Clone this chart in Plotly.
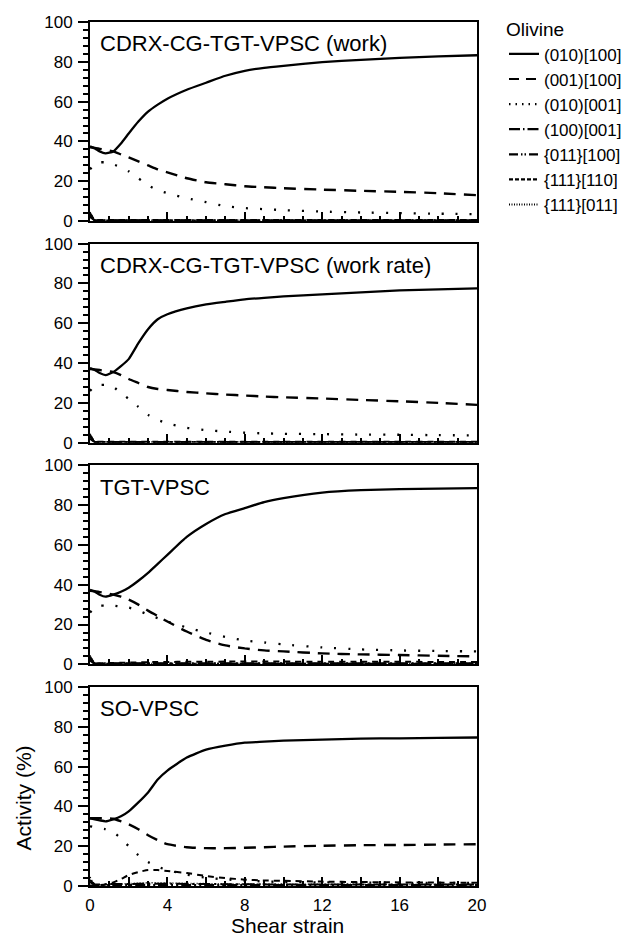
import plotly.graph_objects as go

# ---------------- data ----------------
STRAIN = [0, 0.25, 0.5, 0.8, 1.2, 1.6, 2, 2.5, 3, 3.5, 4, 5, 6, 7, 8, 9, 10, 12, 14, 16, 18, 20]

PANEL_TITLES = ["CDRX-CG-TGT-VPSC (work)", "CDRX-CG-TGT-VPSC (work rate)", "TGT-VPSC", "SO-VPSC"]
SYSTEMS = ["(010)[100]", "(001)[100]", "(010)[001]", "(100)[001]", "{011}[100]", "{111}[110]", "{111}[011]"]

# panel 1: CDRX-CG-TGT-VPSC (work)
WORK_010_100 = [37.5, 36.5, 35, 34, 35, 39, 44, 50, 55, 58.5, 61.5, 66, 69.5, 73, 75.5, 77, 78, 79.8, 81, 82, 82.7, 83.3]
WORK_001_100 = [37, 36.8, 36.3, 35.8, 35, 33.5, 32, 30, 28, 26, 24.5, 21.5, 19.5, 18.5, 17.5, 17, 16.5, 15.8, 15.2, 14.7, 14, 13]
WORK_010_001 = [26, 28.5, 29.5, 29.5, 28.5, 27, 25, 21.5, 18, 15.5, 14, 11.5, 9.5, 7.5, 6.5, 6, 5.5, 4.8, 4.3, 4, 3.7, 3.5]
WORK_100_001 = [3, 0.4, 0.4, 0.4, 0.4, 0.4, 0.4, 0.4, 0.4, 0.4, 0.4, 0.4, 0.4, 0.4, 0.4, 0.4, 0.4, 0.4, 0.4, 0.4, 0.4, 0.4]
WORK_011_100 = [2, 0.3, 0.3, 0.3, 0.3, 0.3, 0.3, 0.3, 0.3, 0.3, 0.3, 0.3, 0.3, 0.3, 0.3, 0.3, 0.3, 0.3, 0.3, 0.3, 0.3, 0.3]
WORK_111_110 = [4, 0.5, 0.5, 0.5, 0.5, 0.5, 0.5, 0.5, 0.5, 0.5, 0.5, 0.5, 0.5, 0.5, 0.5, 0.5, 0.5, 0.5, 0.5, 0.5, 0.5, 0.5]
WORK_111_011 = [4.5, 0.4, 0.4, 0.4, 0.4, 0.4, 0.4, 0.4, 0.4, 0.4, 0.4, 0.4, 0.4, 0.4, 0.4, 0.4, 0.4, 0.4, 0.4, 0.4, 0.4, 0.4]

# panel 2: CDRX-CG-TGT-VPSC (work rate)
RATE_010_100 = [37.5, 36.5, 35, 34, 35.5, 38.5, 42, 50, 57, 62, 64.5, 67.5, 69.5, 70.8, 72, 72.8, 73.5, 74.5, 75.5, 76.5, 77, 77.5]
RATE_001_100 = [37, 36.8, 36.5, 36, 35.5, 34, 32, 30, 28, 27, 26.5, 25.5, 24.8, 24.2, 23.7, 23.2, 22.8, 22.2, 21.5, 20.8, 20, 19]
RATE_010_001 = [26, 28.5, 29, 29, 28, 25, 22, 18, 14, 11.5, 9.7, 7.5, 6.3, 5.6, 5, 4.7, 4.5, 4.3, 4.1, 4, 3.8, 3.7]
RATE_100_001 = [3, 0.4, 0.4, 0.4, 0.4, 0.4, 0.4, 0.4, 0.4, 0.4, 0.4, 0.4, 0.4, 0.4, 0.4, 0.4, 0.4, 0.4, 0.4, 0.4, 0.4, 0.4]
RATE_011_100 = [2, 0.3, 0.3, 0.3, 0.3, 0.3, 0.3, 0.3, 0.3, 0.3, 0.3, 0.3, 0.3, 0.3, 0.3, 0.3, 0.3, 0.3, 0.3, 0.3, 0.3, 0.3]
RATE_111_110 = [4, 0.5, 0.5, 0.5, 0.5, 0.5, 0.5, 0.5, 0.5, 0.5, 0.5, 0.5, 0.5, 0.5, 0.5, 0.5, 0.5, 0.5, 0.5, 0.5, 0.5, 0.5]
RATE_111_011 = [4.5, 0.4, 0.4, 0.4, 0.4, 0.4, 0.4, 0.4, 0.4, 0.4, 0.4, 0.4, 0.4, 0.4, 0.4, 0.4, 0.4, 0.4, 0.4, 0.4, 0.4, 0.4]

# panel 3: TGT-VPSC
TGT_010_100 = [37.5, 36.5, 35, 34, 35, 36.5, 38.5, 42, 46, 50.5, 55, 64, 70.5, 75.5, 78.5, 81.5, 83.5, 86.3, 87.5, 88, 88.3, 88.5]
TGT_001_100 = [37, 36.8, 36.3, 35.8, 35, 34, 32.5, 30, 27, 24.3, 21.5, 16.5, 12.3, 9.5, 8, 7, 6.5, 5.5, 5, 4.7, 4.3, 4]
TGT_010_001 = [26, 28.5, 29.5, 29.5, 29.5, 29, 28.5, 27, 25, 23.2, 21.5, 18.5, 16, 13.8, 12, 11, 10, 8.5, 7.5, 7, 6.7, 6.5]
TGT_100_001 = [3, 0.5, 0.5, 0.5, 0.5, 0.5, 0.5, 0.5, 0.5, 0.5, 0.5, 0.5, 0.5, 0.5, 0.5, 0.5, 0.5, 0.5, 0.5, 0.5, 0.5, 0.5]
TGT_011_100 = [2, 0.3, 0.3, 0.3, 0.3, 0.3, 0.3, 0.3, 0.3, 0.3, 0.3, 0.3, 0.3, 0.3, 0.3, 0.3, 0.3, 0.3, 0.3, 0.3, 0.3, 0.3]
TGT_111_110 = [4, 0.5, 0.5, 0.6, 0.7, 0.8, 0.9, 1, 1.1, 1.2, 1.2, 1.3, 1.3, 1.4, 1.4, 1.4, 1.4, 1.3, 1.3, 1.3, 1.2, 1.2]
TGT_111_011 = [4.5, 0.4, 0.4, 0.4, 0.4, 0.4, 0.4, 0.4, 0.4, 0.4, 0.4, 0.4, 0.4, 0.4, 0.4, 0.4, 0.4, 0.4, 0.4, 0.4, 0.4, 0.4]

# panel 4: SO-VPSC
SO_010_100 = [34, 33.5, 33, 32.5, 33.5, 35, 37.5, 42, 47, 53.5, 58, 64.5, 68.5, 70.5, 72, 72.5, 73, 73.5, 74, 74.2, 74.4, 74.6]
SO_001_100 = [34, 34, 34, 34, 33.8, 32.5, 31, 28.5, 25.5, 23, 21, 19.5, 19, 19, 19.2, 19.5, 19.8, 20.2, 20.5, 20.6, 20.8, 21]
SO_010_001 = [30, 29.5, 29, 28.5, 27, 24, 20, 15.5, 12, 9.7, 8, 5.7, 4.2, 3.3, 2.7, 2.3, 2, 1.8, 1.7, 1.6, 1.5, 1.5]
SO_100_001 = [3, 0.8, 0.8, 0.9, 1, 1, 1, 1.1, 1.1, 1.1, 1.2, 1, 1, 0.9, 0.9, 0.8, 0.8, 0.8, 0.7, 0.7, 0.7, 0.7]
SO_011_100 = [2, 0.5, 0.5, 0.5, 0.5, 0.5, 0.5, 0.5, 0.5, 0.5, 0.5, 0.5, 0.5, 0.5, 0.5, 0.5, 0.5, 0.5, 0.5, 0.5, 0.5, 0.5]
SO_111_110 = [0.3, 0.3, 0.4, 0.8, 1.8, 3.5, 5.5, 7, 8, 8, 7.5, 6.5, 5, 4, 3.2, 2.8, 2.6, 2.2, 2, 1.8, 1.7, 1.6]
SO_111_011 = [4.5, 0.6, 0.5, 0.6, 0.8, 1, 1.2, 1.4, 1.6, 1.6, 1.5, 1.3, 1.2, 1.1, 1, 1, 0.9, 0.9, 0.9, 0.8, 0.8, 0.8]

X_TICKVALS = [0, 2, 4, 6, 8, 10, 12, 14, 16, 18, 20]
X_TICKTEXT = ["0", "", "4", "", "8", "", "12", "", "16", "", "20"]
Y_TICKVALS = [0, 20, 40, 60, 80, 100]

PANELS = [
    [WORK_010_100, WORK_001_100, WORK_010_001, WORK_100_001, WORK_011_100, WORK_111_110, WORK_111_011],
    [RATE_010_100, RATE_001_100, RATE_010_001, RATE_100_001, RATE_011_100, RATE_111_110, RATE_111_011],
    [TGT_010_100, TGT_001_100, TGT_010_001, TGT_100_001, TGT_011_100, TGT_111_110, TGT_111_011],
    [SO_010_100, SO_001_100, SO_010_001, SO_100_001, SO_011_100, SO_111_110, SO_111_011],
]

# ---------------- styles ----------------
FONT = "Liberation Sans, Arial, sans-serif"
PLOT_DASH = ["solid", "12px,8px", "2px,12px", "12px,4px,2px,4px", "10px,3px,2px,3px,2px,3px", "6px,5px", "1px,2px"]
PLOT_WIDTH = [2.3, 2.4, 2.3, 2, 2, 2, 1.5]
LEG_DASH = ["solid", "10px,7px", "1.5px,5px", "11px,3px,1.5px,3px", "9px,3px,1.5px,2px,1.5px,3px", "4px,2px", "1px,1.5px"]

W, H = 641, 939
MT, MB, ML, MR = 18, 53, 90, 164
PANEL_H = 200
plot_w = W - ML - MR
plot_h = H - MT - MB
gap = (plot_h - 4 * PANEL_H) / 3

fig = go.Figure()
annotations = []
for p, series in enumerate(PANELS):
    ax = "" if p == 0 else str(p + 1)
    top_px = p * (PANEL_H + gap)
    y_hi = 1 - top_px / plot_h
    y_lo = 1 - (top_px + PANEL_H) / plot_h
    for s, vals in enumerate(series):
        fig.add_trace(go.Scatter(
            x=STRAIN, y=vals, mode="lines", xaxis="x" + ax, yaxis="y" + ax,
            line=dict(color="black", width=PLOT_WIDTH[s], dash=PLOT_DASH[s], shape="spline", smoothing=0.5),
            showlegend=False, hoverinfo="skip"))
    fig.layout["xaxis" + ax] = dict(
        domain=[0, 1], anchor="y" + ax, range=[0, 20],
        showline=True, linecolor="black", linewidth=2, mirror=True,
        ticks="inside", ticklen=9, tickwidth=2, tickcolor="black",
        tickvals=X_TICKVALS, ticktext=X_TICKTEXT,
        showticklabels=(p == 3), ticklabelstandoff=3,
        minor=dict(ticks="inside", ticklen=5, tickwidth=1.5, tickcolor="black", dtick=1, tick0=0, showgrid=False),
        showgrid=False, zeroline=False,
        tickfont=dict(family=FONT, size=17, color="black"))
    fig.layout["yaxis" + ax] = dict(
        domain=[y_lo, y_hi], anchor="x" + ax, range=[0, 100],
        showline=True, linecolor="black", linewidth=2, mirror=True,
        ticks="outside", ticklen=10, tickwidth=2, tickcolor="black",
        tickvals=Y_TICKVALS, ticklabelstandoff=2,
        minor=dict(ticks="outside", ticklen=5, tickwidth=1.5, tickcolor="black", dtick=4, tick0=0, showgrid=False),
        showgrid=False, zeroline=False,
        tickfont=dict(family=FONT, size=17, color="black"))
    annotations.append(dict(
        text=PANEL_TITLES[p], xref="x" + ax + " domain", yref="y" + ax + " domain",
        x=0.02, y=1 - 22 / PANEL_H, xanchor="left", yanchor="middle", showarrow=False,
        font=dict(family=FONT, size=22, color="black")))

# legend-only traces
for s, name in enumerate(SYSTEMS):
    fig.add_trace(go.Scatter(
        x=[None], y=[None], mode="lines", name=name,
        line=dict(color="black", width=2.2, dash=LEG_DASH[s]), showlegend=True))

annotations.append(dict(
    text="Activity (%)", xref="paper", yref="y4 domain", x=(23 - ML) / plot_w, y=0.44,
    xanchor="center", yanchor="middle", textangle=-90, showarrow=False,
    font=dict(family=FONT, size=21, color="black")))
annotations.append(dict(
    text="Shear strain", xref="paper", yref="paper", x=(287 - ML) / plot_w, y=-(926 - (H - MB)) / plot_h,
    xanchor="center", yanchor="middle", showarrow=False,
    font=dict(family=FONT, size=21, color="black")))

fig.update_layout(
    width=W, height=H, margin=dict(l=ML, r=MR, t=MT, b=MB),
    paper_bgcolor="white", plot_bgcolor="white",
    font=dict(family=FONT, size=17, color="black"),
    annotations=annotations,
    legend=dict(
        title=dict(text="Olivine", font=dict(family=FONT, size=19, color="black")),
        x=(504 - ML) / plot_w, y=1.012, xanchor="left", yanchor="top",
        font=dict(family=FONT, size=17, color="black"),
        bgcolor="rgba(0,0,0,0)", borderwidth=0, tracegroupgap=0),
)

fig.write_html("out.html")
